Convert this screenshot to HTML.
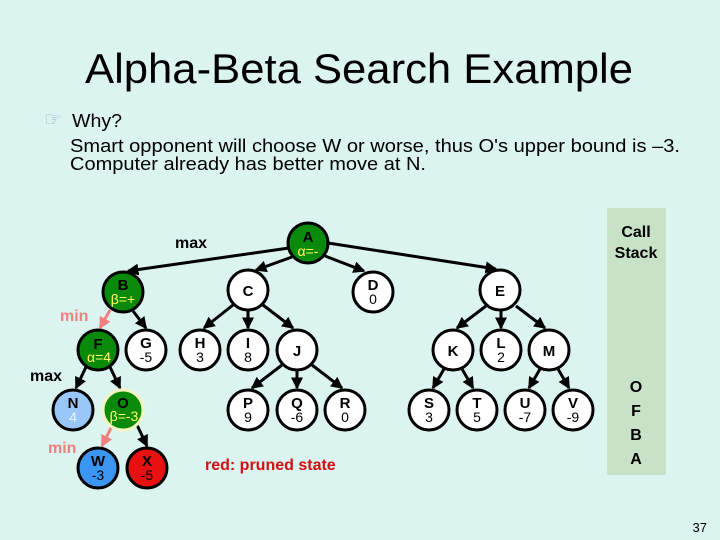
<!DOCTYPE html>
<html><head><meta charset="utf-8"><style>
html,body{margin:0;padding:0;background:#dcf4f0;}
svg{display:block;font-family:"Liberation Sans",Arial,sans-serif;}
</style></head><body>
<svg width="720" height="540" viewBox="0 0 720 540" xmlns="http://www.w3.org/2000/svg">
<defs>
<marker id="ar" markerWidth="4" markerHeight="4" refX="3.5" refY="2" orient="auto" markerUnits="strokeWidth"><path d="M0,0 L4,2 L0,4 z" fill="#000"/></marker>
<marker id="arp" markerWidth="4" markerHeight="4" refX="3.5" refY="2" orient="auto" markerUnits="strokeWidth"><path d="M0,0 L4,2 L0,4 z" fill="#f08080"/></marker>
</defs>
<rect width="720" height="540" fill="#dcf4f0"/>
<text x="85" y="83" font-size="42" textLength="548" lengthAdjust="spacingAndGlyphs">Alpha-Beta Search Example</text>
<text x="44" y="126" font-size="20" fill="#8fb8d8">☞</text>
<text x="72" y="127" font-size="18" textLength="50" lengthAdjust="spacingAndGlyphs">Why?</text>
<text x="70" y="152" font-size="18" textLength="610" lengthAdjust="spacingAndGlyphs">Smart opponent will choose W or worse, thus O's upper bound is –3.</text>
<text x="70" y="170" font-size="18" textLength="356" lengthAdjust="spacingAndGlyphs">Computer already has better move at N.</text>

<rect x="607" y="208" width="59" height="267" fill="#c8e2c8"/>
<g font-weight="bold" font-size="16" text-anchor="middle">
<text x="636" y="237">Call</text><text x="636" y="258">Stack</text>
<text x="636" y="392">O</text><text x="636" y="416">F</text><text x="636" y="440">B</text><text x="636" y="464">A</text>
</g>

<g stroke="#000" stroke-width="3" fill="none" marker-end="url(#ar)">
<line x1="289" y1="248" x2="128" y2="271"/>
<line x1="292" y1="257" x2="256" y2="270"/>
<line x1="325" y1="256" x2="364" y2="271"/>
<line x1="328" y1="243" x2="496" y2="269"/>
<line x1="133" y1="311" x2="146" y2="328"/>
<line x1="233" y1="305" x2="204" y2="328"/>
<line x1="248" y1="311" x2="248" y2="328"/>
<line x1="263" y1="305" x2="293" y2="328"/>
<line x1="486" y1="306" x2="457" y2="328"/>
<line x1="501" y1="311" x2="501" y2="328"/>
<line x1="516" y1="306" x2="545" y2="328"/>
<line x1="86" y1="367" x2="76" y2="388"/>
<line x1="110" y1="367" x2="120" y2="388"/>
<line x1="282" y1="365" x2="252" y2="388"/>
<line x1="297" y1="371" x2="297" y2="388"/>
<line x1="312" y1="365" x2="342" y2="388"/>
<line x1="444" y1="369" x2="433" y2="388"/>
<line x1="462" y1="369" x2="473" y2="388"/>
<line x1="540" y1="369" x2="529" y2="388"/>
<line x1="558" y1="369" x2="569" y2="388"/>
<line x1="137" y1="425" x2="147" y2="446"/>
</g>
<g stroke="#f08080" stroke-width="3" fill="none" marker-end="url(#arp)">
<line x1="110" y1="310" x2="100" y2="328"/>
<line x1="112" y1="426" x2="102" y2="446"/>
</g>

<g stroke="#000" stroke-width="3">
<circle cx="308" cy="243" r="20" fill="#0a8a0a"/>
<circle cx="123" cy="292" r="20" fill="#0a8a0a"/>
<circle cx="98" cy="350" r="20" fill="#0a8a0a"/>
<circle cx="123" cy="410" r="20" fill="#0a8a0a" stroke="#f4f4c0"/>
<circle cx="73" cy="410" r="20" fill="#99c8f8"/>
<circle cx="98" cy="468" r="20" fill="#3a96f0"/>
<circle cx="147" cy="468" r="20" fill="#e81010"/>
<g fill="#fff">
<circle cx="248" cy="290" r="20"/><circle cx="373" cy="292" r="20"/><circle cx="500" cy="290" r="20"/>
<circle cx="146" cy="350" r="20"/><circle cx="200" cy="350" r="20"/><circle cx="248" cy="350" r="20"/><circle cx="297" cy="350" r="20"/>
<circle cx="453" cy="350" r="20"/><circle cx="501" cy="350" r="20"/><circle cx="549" cy="350" r="20"/>
<circle cx="248" cy="410" r="20"/><circle cx="297" cy="410" r="20"/><circle cx="345" cy="410" r="20"/>
<circle cx="429" cy="410" r="20"/><circle cx="477" cy="410" r="20"/><circle cx="525" cy="410" r="20"/><circle cx="573" cy="410" r="20"/>
</g></g>

<g font-weight="bold" font-size="15" text-anchor="middle">
<text x="308" y="242">A</text><text x="123" y="290">B</text><text x="98" y="349">F</text><text x="123" y="408">O</text>
<text x="73" y="408">N</text><text x="98" y="466">W</text><text x="147" y="466">X</text>
<text x="248" y="296">C</text><text x="373" y="290">D</text><text x="500" y="296">E</text>
<text x="146" y="348">G</text><text x="200" y="348">H</text><text x="248" y="348">I</text><text x="297" y="356">J</text>
<text x="453" y="356">K</text><text x="501" y="348">L</text><text x="549" y="356">M</text>
<text x="248" y="408">P</text><text x="297" y="408">Q</text><text x="345" y="408">R</text>
<text x="429" y="408">S</text><text x="477" y="408">T</text><text x="525" y="408">U</text><text x="573" y="408">V</text>
</g>
<g font-size="14" text-anchor="middle">
<text x="373" y="304">0</text><text x="146" y="362">-5</text><text x="200" y="362">3</text><text x="248" y="362">8</text><text x="501" y="362">2</text>
<text x="248" y="422">9</text><text x="297" y="422">-6</text><text x="345" y="422">0</text>
<text x="429" y="422">3</text><text x="477" y="422">5</text><text x="525" y="422">-7</text><text x="573" y="422">-9</text>
<text x="73" y="422" fill="#e8f4ff">4</text><text x="98" y="480">-3</text><text x="147" y="480">-5</text>
</g>
<g font-size="14" fill="#ffff60" text-anchor="middle">
<text x="308" y="256">α=-</text><text x="123" y="304">β=+</text><text x="99" y="362">α=4</text><text x="124" y="421">β=-3</text>
</g>
<g font-weight="bold" font-size="16">
<text x="175" y="248">max</text>
<text x="60" y="321" fill="#f08080">min</text>
<text x="30" y="381">max</text>
<text x="48" y="453" fill="#f08080">min</text>
<text x="205" y="470" fill="#d01010">red: <tspan>pruned state</tspan></text>
</g>
<text x="707" y="532" font-size="13" text-anchor="end">37</text>
</svg>
</body></html>
